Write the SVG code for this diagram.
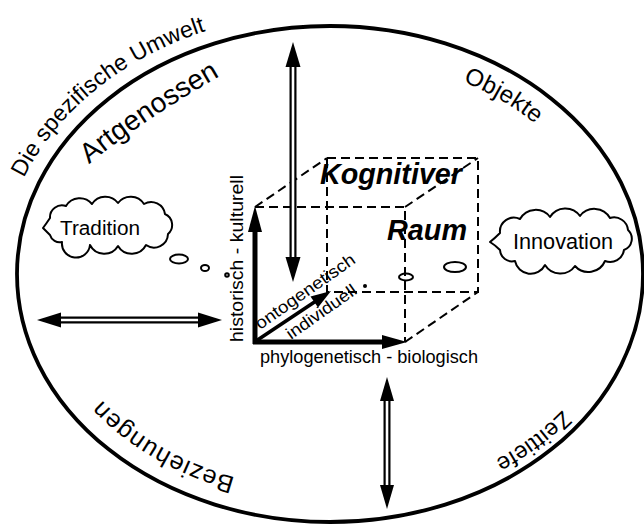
<svg xmlns="http://www.w3.org/2000/svg" xmlns:xlink="http://www.w3.org/1999/xlink" width="644" height="525" viewBox="0 0 644 525">
<style>
  text { font-family: "Liberation Sans", Arial, sans-serif; fill: #000; }
  .outline { fill: none; stroke: #000; stroke-width: 3.8; }
  .dash { fill: none; stroke: #000; stroke-width: 2; stroke-dasharray: 9 5; }
  .axis { fill: none; stroke: #000; stroke-width: 5; }
  .cloud { fill: #fff; stroke: #000; stroke-width: 2; stroke-linejoin: round; }
  .bubble { fill: #fff; stroke: #000; stroke-width: 2; }
  .dblOuter { stroke: #000; stroke-width: 7; fill: none; }
  .dblInner { stroke: #fff; stroke-width: 2.6; fill: none; }
  .head { fill: #000; stroke: none; }
  .ring { font-size: 23px; }
  .big { font-size: 28px; }
  .cube { font-size: 29px; font-weight: bold; font-style: italic; }
  .axisLbl { font-size: 18px; }
  .diag { font-size: 17px; }
  .cloudLbl { font-size: 20px; }
</style>
<defs>
  <path id="pUmwelt" d="M 24,178 A 327 262 0 0 1 232,23.6"/>
  <path id="pArt" d="M 80,172 Q 140,120 245,62"/>
  <path id="pObj" d="M 463,81.6 A 283 218 0 0 1 550,136.8"/>
  <path id="pBez" d="M 240,478.6 A 281 216 0 0 1 85,379.8"/>
  <path id="pZeit" d="M 575,395.9 A 291 226 0 0 1 470,472"/>
</defs>

<g id="umwelt">
  <ellipse class="outline" cx="330" cy="274" rx="313" ry="248"/>
  <text class="ring"><textPath xlink:href="#pUmwelt" href="#pUmwelt" startOffset="0" textLength="240" lengthAdjust="spacing">Die spezifische Umwelt</textPath></text>
</g>

<g id="artgenossen">
  <text class="big"><textPath xlink:href="#pArt" href="#pArt" startOffset="12" textLength="158" lengthAdjust="spacing">Artgenossen</textPath></text>
</g>
<g id="objekte">
  <text class="ring" style="font-size:24px"><textPath xlink:href="#pObj" href="#pObj" startOffset="0" textLength="84" lengthAdjust="spacing">Objekte</textPath></text>
</g>
<g id="beziehungen">
  <text class="ring" style="font-size:25px"><textPath xlink:href="#pBez" href="#pBez" startOffset="5" textLength="156" lengthAdjust="spacing">Beziehungen</textPath></text>
</g>
<g id="zeittiefe">
  <text class="ring"><textPath xlink:href="#pZeit" href="#pZeit" startOffset="19" textLength="84" lengthAdjust="spacing">Zeittiefe</textPath></text>
</g>

<g id="tradition">
  <path class="cloud" d="M 50,218 A 12 12 0 0 1 66,206 A 16 16 0 0 1 92,204 A 16 16 0 0 1 118,203 A 16 16 0 0 1 144,204 A 14 14 0 0 1 165,214 A 12 12 0 0 1 168,234 A 14 14 0 0 1 146,245 A 16 16 0 0 1 118,246 A 16 16 0 0 1 90,245 A 14 14 0 0 1 62,242 A 10 10 0 0 1 50,235 Q 46,231 43,228 Q 46,224 50,218 Z"/>
  <text class="cloudLbl" x="60" y="235" textLength="80" lengthAdjust="spacingAndGlyphs">Tradition</text>
  <ellipse class="bubble" cx="179" cy="259" rx="9" ry="4.5"/>
  <ellipse class="bubble" cx="205" cy="268" rx="4" ry="3"/>
  <circle class="bubble" cx="227" cy="275" r="1.8" stroke-width="1.5"/>
</g>

<g id="innovation">
  <path class="cloud" d="M 500,233 A 14 14 0 0 1 520,219 A 18 18 0 0 1 550,217 A 18 18 0 0 1 580,216 A 18 18 0 0 1 610,218 A 14 14 0 0 1 628,230 A 12 12 0 0 1 624,250 A 14 14 0 0 1 605,261 A 18 18 0 0 1 575,266 A 18 18 0 0 1 545,265 A 16 16 0 0 1 515,261 A 12 12 0 0 1 500,250 Q 495,245 490,242 Q 495,238 500,233 Z"/>
  <text class="cloudLbl" x="513" y="249" style="font-size:22px" textLength="100" lengthAdjust="spacingAndGlyphs">Innovation</text>
  <ellipse class="bubble" cx="455" cy="267" rx="11" ry="5"/>
  <ellipse class="bubble" cx="406" cy="277" rx="7" ry="3.5"/>
  <circle cx="365" cy="286" r="2" fill="#000"/>
</g>

<g id="kognitiver-raum">
  <path class="dash" d="M 327,158 L 478,158 L 478,292 L 327,292 Z"/>
  <path class="dash" d="M 255,207 L 405,207 L 405,342"/>
  <path class="dash" d="M 255,207 L 327,158 M 405,207 L 478,158 M 405,342 L 478,292"/>
  <line class="axis" x1="255" y1="344" x2="255" y2="228"/>
  <polygon class="head" points="255,206 248,232 262,232"/>
  <line class="axis" x1="253" y1="342" x2="385" y2="342"/>
  <polygon class="head" points="407,342 382,335 382,349"/>
  <line class="axis" x1="256" y1="341" x2="316" y2="301" style="stroke-width:3.5"/>
  <polygon class="head" points="331,291 318,307.5 310.5,296.5"/>
  <text class="cube" x="320" y="184" textLength="142" lengthAdjust="spacingAndGlyphs">Kognitiver</text>
  <text class="cube" x="387" y="240" textLength="80" lengthAdjust="spacingAndGlyphs">Raum</text>
  <text class="axisLbl" transform="translate(243,342) rotate(-90)" textLength="167" lengthAdjust="spacingAndGlyphs">historisch - kulturell</text>
  <text class="axisLbl" x="260" y="363" textLength="218" lengthAdjust="spacingAndGlyphs">phylogenetisch - biologisch</text>
  <text class="diag" transform="translate(260,330) rotate(-35)" textLength="118" lengthAdjust="spacingAndGlyphs">ontogenetisch</text>
  <text class="diag" transform="translate(291,340) rotate(-35)" textLength="82" lengthAdjust="spacingAndGlyphs">individuell</text>
</g>

<g id="connectors">
  <g id="arrow-top">
    <line class="dblOuter" x1="293" y1="64" x2="293" y2="260"/>
    <line class="dblInner" x1="293" y1="62" x2="293" y2="262"/>
    <polygon class="head" points="293,42 285.5,67 300.5,67"/>
    <polygon class="head" points="293,282 285.5,257 300.5,257"/>
  </g>
  <g id="arrow-left">
    <line class="dblOuter" x1="58" y1="320" x2="201" y2="320"/>
    <line class="dblInner" x1="56" y1="320" x2="203" y2="320"/>
    <polygon class="head" points="37,320 61,312.5 61,327.5"/>
    <polygon class="head" points="222,320 198,312.5 198,327.5"/>
  </g>
  <g id="arrow-bottom">
    <line class="dblOuter" x1="387" y1="399" x2="387" y2="487"/>
    <line class="dblInner" x1="387" y1="397" x2="387" y2="489"/>
    <polygon class="head" points="387,377 380,401 394,401"/>
    <polygon class="head" points="387,509 380,485 394,485"/>
  </g>
</g>
</svg>
